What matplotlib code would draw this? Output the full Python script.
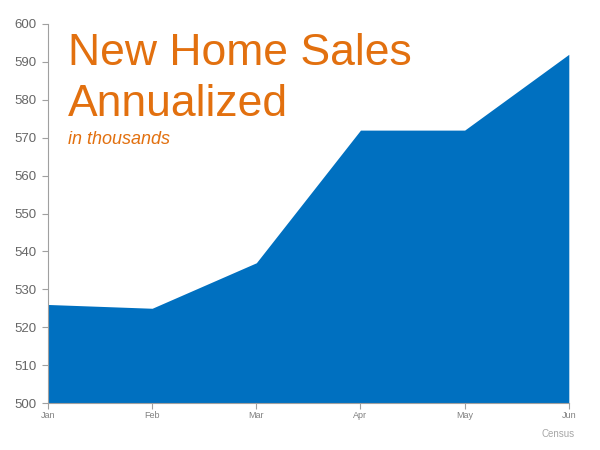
import matplotlib
matplotlib.use("Agg")
import matplotlib.pyplot as plt

months = ["Jan", "Feb", "Mar", "Apr", "May", "Jun"]
sales = [526, 525, 537, 572, 572, 592]
yticks = list(range(500, 601, 10))

plt.rcParams['font.family'] = ['Liberation Sans', 'DejaVu Sans']

fig = plt.figure(figsize=(6, 4.5), dpi=100)
ax = fig.add_axes([0.08, 0.1044, 0.868, 0.8423])
x = list(range(len(months)))
ax.fill_between(x, 500, sales, color="#0070C0", linewidth=0)
ax.set_xlim(0, len(months) - 1)
ax.set_ylim(500, 600)
ax.set_xticks(x)
ax.set_xticklabels(months, fontsize=6.5, color="#808080")
ax.set_yticks(yticks)
ax.set_yticklabels([str(v) for v in yticks], fontsize=9.5, color="#666666")
for s in ["top", "right"]:
    ax.spines[s].set_visible(False)
for s in ["left", "bottom"]:
    ax.spines[s].set_color("#A0A0A0")
    ax.spines[s].set_linewidth(0.8)
ax.tick_params(axis="both", colors="#A0A0A0", length=4, width=0.8)
ax.tick_params(axis="x", labelcolor="#808080", pad=2)
ax.tick_params(axis="y", labelcolor="#666666", pad=4)

orange = "#E2700F"
fig.text(0.113, 0.882, "New Home Sales", fontsize=32, color=orange, va="center")
fig.text(0.113, 0.768, "Annualized", fontsize=32, color=orange, va="center")
fig.text(0.113, 0.689, "in thousands", fontsize=13, color=orange, style="italic", va="center")
fig.text(0.93, 0.028, "Census", fontsize=7, color="#A6A6A6", ha="center")

fig.savefig("out.png", dpi=100, facecolor="white")
